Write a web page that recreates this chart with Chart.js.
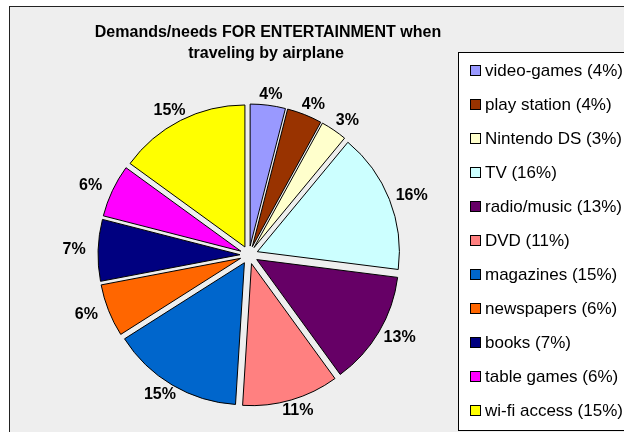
<!DOCTYPE html>
<html>
<head>
<meta charset="utf-8">
<title>Demands/needs FOR ENTERTAINMENT when traveling by airplane</title>
<script src="https://cdn.jsdelivr.net/npm/chart.js@4/dist/chart.umd.min.js"></script>
<style>
  html, body { margin: 0; padding: 0; background: #ffffff; overflow: hidden; }
  #frame {
    position: absolute; left: 9px; top: 6px;
    width: 680px; height: 440px;
    border: 1px solid #222;
    background: #eeeeee;
  }
  #frame canvas { display: block; }
</style>
</head>
<body>
<div id="frame"><canvas id="grafico" width="680" height="440"></canvas></div>
<script>
/* ======= Dados ======= */
const titulo = ['Demands/needs FOR ENTERTAINMENT when', 'traveling by airplane'];
const categorias = [
  'video-games', 'play station', 'Nintendo DS', 'TV', 'radio/music', 'DVD',
  'magazines', 'newspapers', 'books', 'table games', 'wi-fi access'
];
const percentuais = [4, 4, 3, 16, 13, 11, 15, 6, 7, 6, 15];
const cores = [
  '#9999ff', '#993300', '#ffffcc', '#ccffff', '#660066', '#ff8080',
  '#0066cc', '#ff6600', '#000080', '#ff00ff', '#ffff00'
];

const FONTE = '"Liberation Sans", Arial, Helvetica, sans-serif';
const EXPLOSAO = 9; // deslocamento de cada fatia a partir do centro

function pct(i) {
  const total = percentuais.reduce((a, b) => a + b, 0);
  return Math.round(percentuais[i] / total * 100);
}

/* ======= Fatias destacadas ======= */
// O offset nativo do Chart.js também aumenta o raio das fatias pequenas,
// então cada arco é desenhado aqui, apenas transladado na direção do meio.
const explodir = {
  id: 'explodir',
  beforeDatasetDraw(chart, args) {
    const ctx = chart.ctx;
    args.meta.data.forEach(arc => {
      const meio = (arc.startAngle + arc.endAngle) / 2;
      ctx.save();
      ctx.translate(Math.cos(meio) * EXPLOSAO, Math.sin(meio) * EXPLOSAO);
      arc.draw(ctx);
      ctx.restore();
    });
    return false;
  }
};

/* ======= Título, legenda e rótulos ======= */
const extras = {
  id: 'extras',
  afterDatasetsDraw(chart) {
    const ctx = chart.ctx;
    const meta = chart.getDatasetMeta(0);

    // rótulos de porcentagem numa elipse em volta da pizza
    ctx.save();
    ctx.font = 'bold 16px ' + FONTE;
    ctx.fillStyle = '#000';
    ctx.textAlign = 'center';
    ctx.textBaseline = 'middle';
    meta.data.forEach((arc, i) => {
      const meio = (arc.startAngle + arc.endAngle) / 2;
      const rx = arc.outerRadius + EXPLOSAO + 24;
      const ry = arc.outerRadius + EXPLOSAO + 11;
      ctx.fillText(pct(i) + '%', arc.x + Math.cos(meio) * rx, arc.y + Math.sin(meio) * ry);
    });
    ctx.restore();
  },
  afterDraw(chart) {
    const ctx = chart.ctx;
    ctx.save();

    // título
    ctx.font = 'bold 16px ' + FONTE;
    ctx.fillStyle = '#000';
    ctx.textAlign = 'center';
    ctx.textBaseline = 'alphabetic';
    ctx.fillText(titulo[0], 258, 30);
    ctx.fillText(titulo[1], 256, 51);

    // legenda com moldura
    ctx.fillStyle = '#ffffff';
    ctx.fillRect(448.5, 45.5, 260, 378);
    ctx.strokeStyle = '#000';
    ctx.lineWidth = 1;
    ctx.strokeRect(448.5, 45.5, 260, 378);

    ctx.font = '17px ' + FONTE;
    ctx.textAlign = 'left';
    ctx.textBaseline = 'middle';
    categorias.forEach((nome, i) => {
      const y = 64 + i * 34;
      ctx.fillStyle = cores[i];
      ctx.fillRect(460.5, y - 5.5, 10, 10);
      ctx.strokeStyle = '#000';
      ctx.strokeRect(460.5, y - 5.5, 10, 10);
      ctx.fillStyle = '#000';
      ctx.fillText(nome + ' (' + pct(i) + '%)', 475, y);
    });
    ctx.restore();
  }
};

/* ======= Gráfico ======= */
new Chart(document.getElementById('grafico'), {
  type: 'pie',
  data: {
    labels: categorias,
    datasets: [{
      data: percentuais,
      backgroundColor: cores,
      borderColor: '#000',
      borderWidth: 1,
      hoverOffset: 0
    }]
  },
  options: {
    responsive: false,
    animation: false,
    events: [],
    layout: { padding: { top: 105.5, bottom: 49.5, left: 41, right: 243 } },
    plugins: {
      legend: { display: false },
      title: { display: false },
      tooltip: { enabled: false }
    }
  },
  plugins: [explodir, extras]
});
</script>
</body>
</html>
